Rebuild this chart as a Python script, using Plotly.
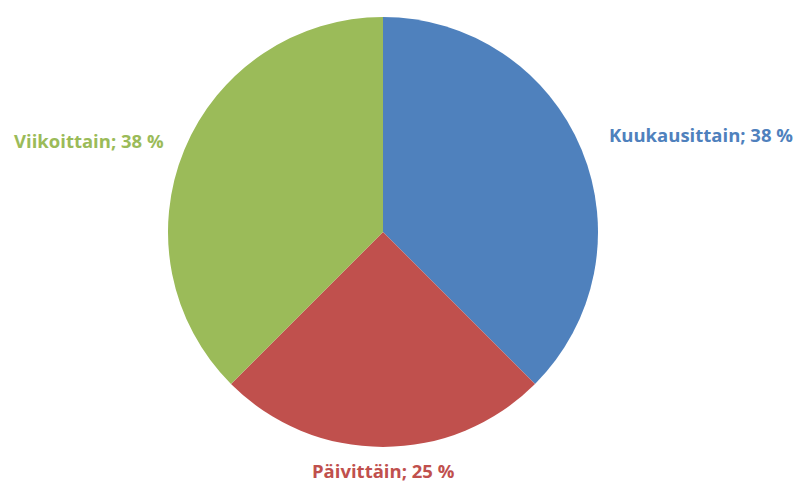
import plotly.graph_objects as go

categories = ["Kuukausittain", "Päivittäin", "Viikoittain"]
values = [37.5, 25.0, 37.5]
percent_text = ["38 %", "25 %", "38 %"]
colors = ["#4F81BD", "#C0504D", "#9BBB59"]

W, H = 796, 485
cx, cy, r = 383, 232, 215

fig = go.Figure(go.Pie(
    labels=categories,
    values=values,
    sort=False,
    direction="clockwise",
    rotation=0,
    marker=dict(colors=colors, line=dict(width=0)),
    textinfo="none",
    hoverinfo="label+percent",
    showlegend=False,
    domain=dict(x=[(cx - r) / W, (cx + r) / W], y=[(H - cy - r) / H, (H - cy + r) / H]),
))

label_pos = [(701, 134), (383, 470), (89, 140)]
for name, pct, col, (x, y) in zip(categories, percent_text, colors, label_pos):
    fig.add_annotation(
        x=x / W, y=1 - y / H, xref="paper", yref="paper",
        text=f"<b>{name}; {pct}</b>", showarrow=False,
        font=dict(family="Open Sans", size=18.5, color=col),
        xanchor="center", yanchor="middle",
    )

fig.update_layout(
    width=W, height=H,
    margin=dict(l=0, r=0, t=0, b=0),
    paper_bgcolor="white", plot_bgcolor="white",
)
fig.write_html("out.html")
